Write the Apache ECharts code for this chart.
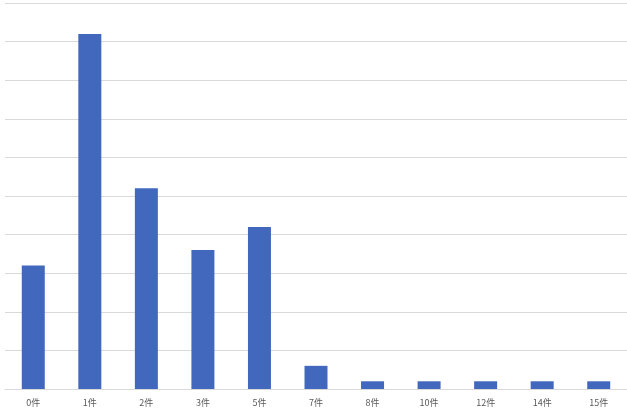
<!DOCTYPE html>
<html>
<head>
<meta charset="utf-8">
<style>html,body{margin:0;padding:0;background:#fff;}#c{width:627px;height:414px;}</style>
<script src="https://cdn.jsdelivr.net/npm/echarts@6/dist/echarts.min.js"></script>
</head>
<body>
<div id="c"></div>
<script>
const categories = ['0件','1件','2件','3件','5件','7件','8件','10件','12件','14件','15件'];
const values = [16, 46, 26, 18, 21, 3, 1, 1, 1, 1, 1];
const yMin = 0, yMax = 50, yInterval = 5;

const chart = echarts.init(document.getElementById('c'), null, {renderer: 'canvas'});
chart.setOption({
  animation: false,
  backgroundColor: '#ffffff',
  grid: {left: 5, right: -3, top: 3, height: 386},
  xAxis: {
    type: 'category',
    data: categories,
    axisTick: {show: false},
    axisLine: {show: true, lineStyle: {color: '#d9d9d9', width: 1}},
    axisLabel: {color: '#595959', fontSize: 9, margin: 9, fontFamily: '"Noto Sans CJK JP", sans-serif', interval: 0}
  },
  yAxis: {
    type: 'value',
    min: yMin, max: yMax, interval: yInterval,
    axisLabel: {show: false},
    axisLine: {show: false},
    axisTick: {show: false},
    splitLine: {lineStyle: {color: '#d9d9d9', width: 1}}
  },
  series: [{
    type: 'bar',
    data: values,
    barWidth: 23,
    itemStyle: {color: '#4268BD'}
  }]
});
</script>
</body>
</html>
